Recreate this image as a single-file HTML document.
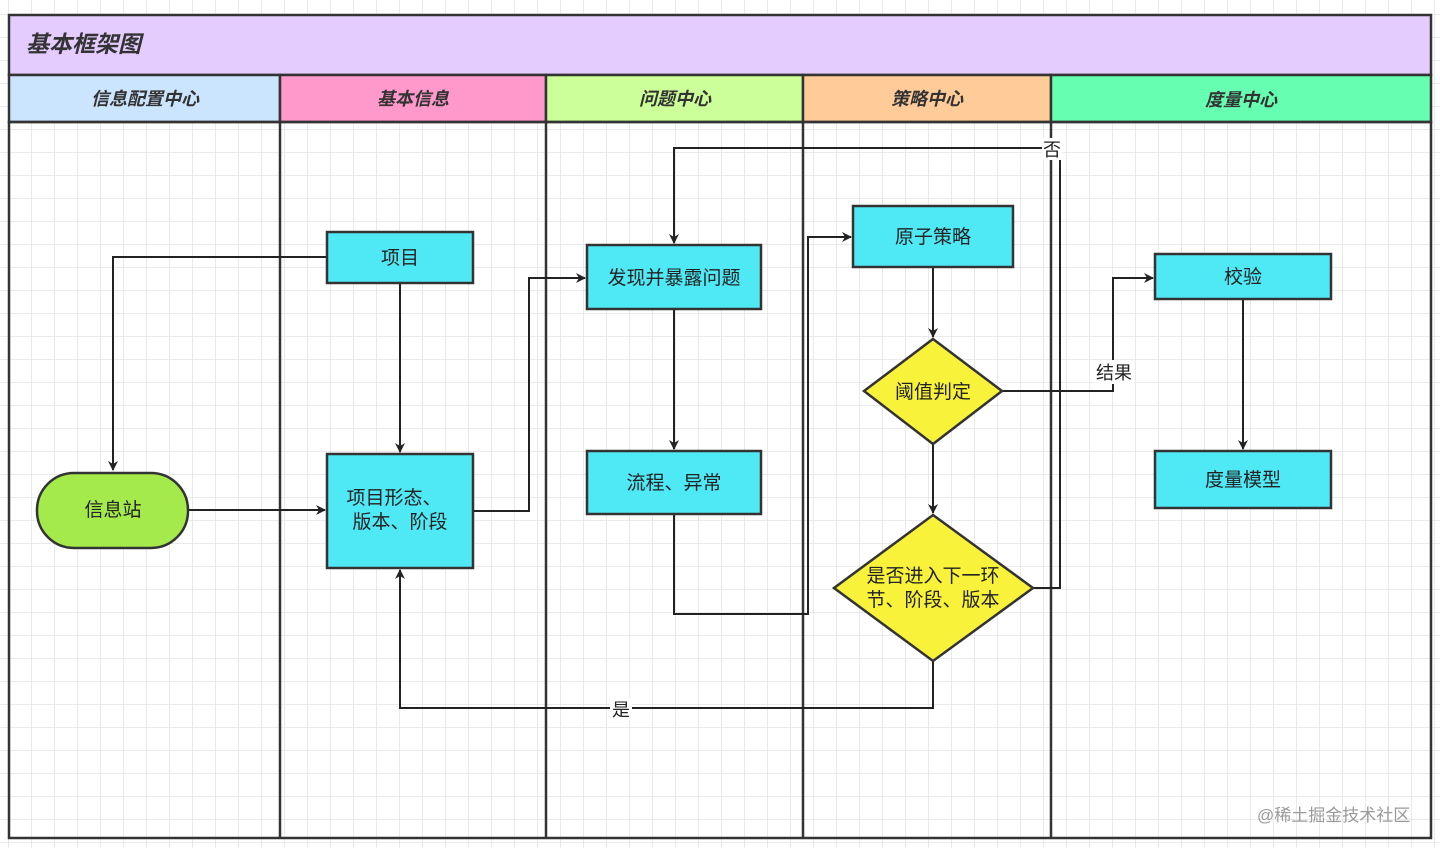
<!DOCTYPE html>
<html><head><meta charset="utf-8"><style>
html,body{margin:0;padding:0;background:#fff;width:1440px;height:848px;overflow:hidden}
svg text{font-family:"Liberation Sans","Noto Sans CJK SC",sans-serif;fill:#222}
</style></head><body>
<svg width="1440" height="848" viewBox="0 0 1440 848" xmlns="http://www.w3.org/2000/svg">
<defs>
<pattern id="g" width="23" height="23" patternUnits="userSpaceOnUse" x="9" y="15">
<path d="M23 0V23M0 23H23" fill="none" stroke="#e3e3e3" stroke-width="1.5"/>
</pattern>
<marker id="a" markerWidth="10" markerHeight="10" refX="9" refY="5" orient="auto" markerUnits="userSpaceOnUse">
<path d="M0,0 L10,5 L0,10 L3,5 Z" fill="#222"/>
</marker>
</defs>
<rect width="1440" height="848" fill="#fff"/>
<rect width="1440" height="848" fill="url(#g)"/>
<rect x="9" y="15" width="1422" height="60" fill="#e5ccff" stroke="#333" stroke-width="2.5"/>
<text x="26" y="52" font-size="23" font-style="italic" font-weight="bold" style="fill:#333">基本框架图</text>
<rect x="9" y="75" width="271" height="47" fill="#cce5ff" stroke="#333" stroke-width="2.5"/>
<rect x="280" y="75" width="266" height="47" fill="#ff99cc" stroke="#333" stroke-width="2.5"/>
<rect x="546" y="75" width="257" height="47" fill="#ccff99" stroke="#333" stroke-width="2.5"/>
<rect x="803" y="75" width="248" height="47" fill="#ffcc99" stroke="#333" stroke-width="2.5"/>
<rect x="1051" y="75" width="380" height="47" fill="#66ffb2" stroke="#333" stroke-width="2.5"/>
<g font-size="18" font-style="italic" font-weight="bold" text-anchor="middle">
<text x="145" y="105" style="fill:#333">信息配置中心</text>
<text x="413" y="105" style="fill:#333">基本信息</text>
<text x="675" y="105" style="fill:#333">问题中心</text>
<text x="927" y="105" style="fill:#333">策略中心</text>
<text x="1241" y="106" style="fill:#333">度量中心</text>
</g>
<g fill="none" stroke="#333" stroke-width="2.5">
<rect x="9" y="122" width="1422" height="716"/>
<path d="M280 122V838M546 122V838M803 122V838M1051 122V838"/>
</g>
<g fill="none" stroke="#222" stroke-width="2">
<path d="M327 257H113V470" marker-end="url(#a)"/>
<path d="M188 510H325" marker-end="url(#a)"/>
<path d="M400 283V452" marker-end="url(#a)"/>
<path d="M473 511H529V278H585" marker-end="url(#a)"/>
<path d="M674 309V449" marker-end="url(#a)"/>
<path d="M674 514V614H808V237H851" marker-end="url(#a)"/>
<path d="M933 267V337" marker-end="url(#a)"/>
<path d="M933 444V513" marker-end="url(#a)"/>
<path d="M1002 391H1113V278H1153" marker-end="url(#a)"/>
<path d="M1243 299V449" marker-end="url(#a)"/>
<path d="M1033 588H1060V148H674V243" marker-end="url(#a)"/>
<path d="M933 661V708H400V570" marker-end="url(#a)"/>
</g>
<rect x="1042" y="138" width="20" height="22" fill="#fff"/>
<text x="1052" y="156" font-size="18" text-anchor="middle">否</text>
<rect x="1094" y="360" width="40" height="24" fill="#fff"/>
<text x="1114" y="379" font-size="18" text-anchor="middle">结果</text>
<rect x="610" y="698" width="22" height="22" fill="#fff"/>
<text x="621" y="716" font-size="18" text-anchor="middle">是</text>
<g stroke="#333" stroke-width="2.5" fill="#4fe8f5">
<rect x="327" y="232" width="146" height="51"/>
<rect x="327" y="454" width="146" height="114"/>
<rect x="587" y="245" width="174" height="64"/>
<rect x="587" y="451" width="174" height="63"/>
<rect x="853" y="206" width="160" height="61"/>
<rect x="1155" y="254" width="176" height="45"/>
<rect x="1155" y="451" width="176" height="57"/>
<rect x="37" y="473" width="151" height="75" rx="37" fill="#a4ea4b"/>
<path d="M933 339L1002 391L933 444L864 391Z" fill="#f8f23a"/>
<path d="M933 515L1033 588L933 661L834 588Z" fill="#f8f23a"/>
</g>
<g font-size="19" text-anchor="middle">
<text x="400" y="264">项目</text>
<text x="394" y="504">项目形态、</text>
<text x="400" y="528">版本、阶段</text>
<text x="113" y="516">信息站</text>
<text x="674" y="284">发现并暴露问题</text>
<text x="674" y="489">流程、异常</text>
<text x="933" y="243">原子策略</text>
<text x="933" y="398">阈值判定</text>
<text x="933" y="582">是否进入下一环</text>
<text x="933" y="606">节、阶段、版本</text>
<text x="1243" y="283">校验</text>
<text x="1243" y="486">度量模型</text>
</g>
<text x="1257" y="821" font-size="17" style="fill:#9a9a9a">@稀土掘金技术社区</text>
</svg>
</body></html>
